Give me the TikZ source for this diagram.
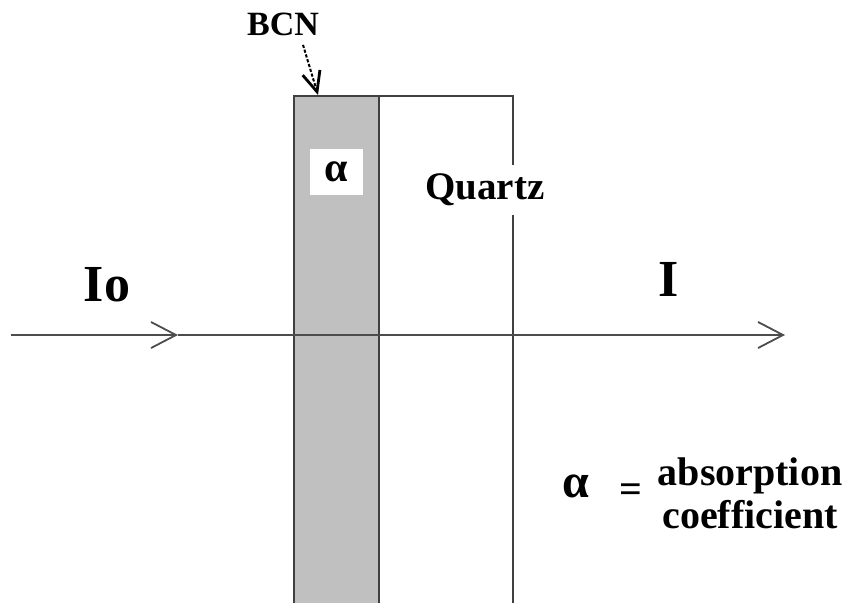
\documentclass[tikz,border=0pt]{standalone}
\usepackage{fontspec}
\setmainfont{Liberation Serif}
\usetikzlibrary{arrows.meta,positioning}
\definecolor{bcngray}{RGB}{192,192,192}
\tikzset{
  layer/.style   = {draw=black!75, line width=1pt, inner sep=0pt, anchor=north west},
  beam/.style    = {draw=black!70, line width=1pt,
                    -{Straight Barb[length=12.5pt,width=13pt,line width=0.9pt]}},
  pointer/.style = {draw=black, line width=1pt, dash pattern=on 1.6pt off 0.9pt,
                    -{Straight Barb[length=10pt,width=9pt,line width=1.4pt]}},
  lbl/.style     = {font=\bfseries, inner sep=0pt}
}

\begin{document}
\begin{tikzpicture}[x=0.5pt, y=-0.5pt]
\useasboundingbox (0,0) rectangle (846,602);
\clip (0,0) rectangle (846,602);
% ---------------- sample layers ----------------
\node[layer, fill=bcngray, minimum width=42.5pt, minimum height=260pt] (bcn) at (293,95) {};
\node[layer, minimum width=67pt, minimum height=260pt] (quartz) at (378,95) {};

% ---------------- labels in the layers ----------------
\node[lbl, fill=white, minimum width=26.5pt, minimum height=23pt,
      font=\fontsize{21}{21}\selectfont\bfseries] (alpha) at (336,172) {α};
\node[lbl, fill=white, inner xsep=1pt, minimum height=25pt,
      font=\fontsize{19.5}{20}\selectfont\bfseries] (qlabel) at (485,190) {Quartz};
\node[lbl, font=\fontsize{17}{17}\selectfont\bfseries] (bcnlabel) at (283,24) {BCN};

% ---------------- beam ----------------
\coordinate (beamstart) at (11,335);
\coordinate (midtip) at (178,335);
\coordinate (beamend) at (785,335);
\draw[beam] (beamstart) -- (midtip);
\draw[beam] (midtip) -- (beamend);
\node[lbl, font=\fontsize{26}{26}\selectfont\bfseries] (inlabel) at (107,285) {Io};
\node[lbl, font=\fontsize{26}{26}\selectfont\bfseries] (outlabel) at (669,279) {I};

% ---------------- pointer ----------------
\draw[pointer] ([xshift=10pt,yshift=-4.5pt]bcnlabel.south) -- ([xshift=12.5pt]bcn.north west);

% ---------------- legend ----------------
\node[lbl, font=\fontsize{24}{24}\selectfont\bfseries] (legalpha) at (576,486) {α};
\node[lbl, font=\fontsize{20}{20}\selectfont\bfseries] (legeq) at (631,493) {=};
\node[lbl, align=center, font=\fontsize{20}{21.5}\selectfont\bfseries] (legtext) at (750,493)
      {absorption\\ coefficient};
\end{tikzpicture}
\end{document}
